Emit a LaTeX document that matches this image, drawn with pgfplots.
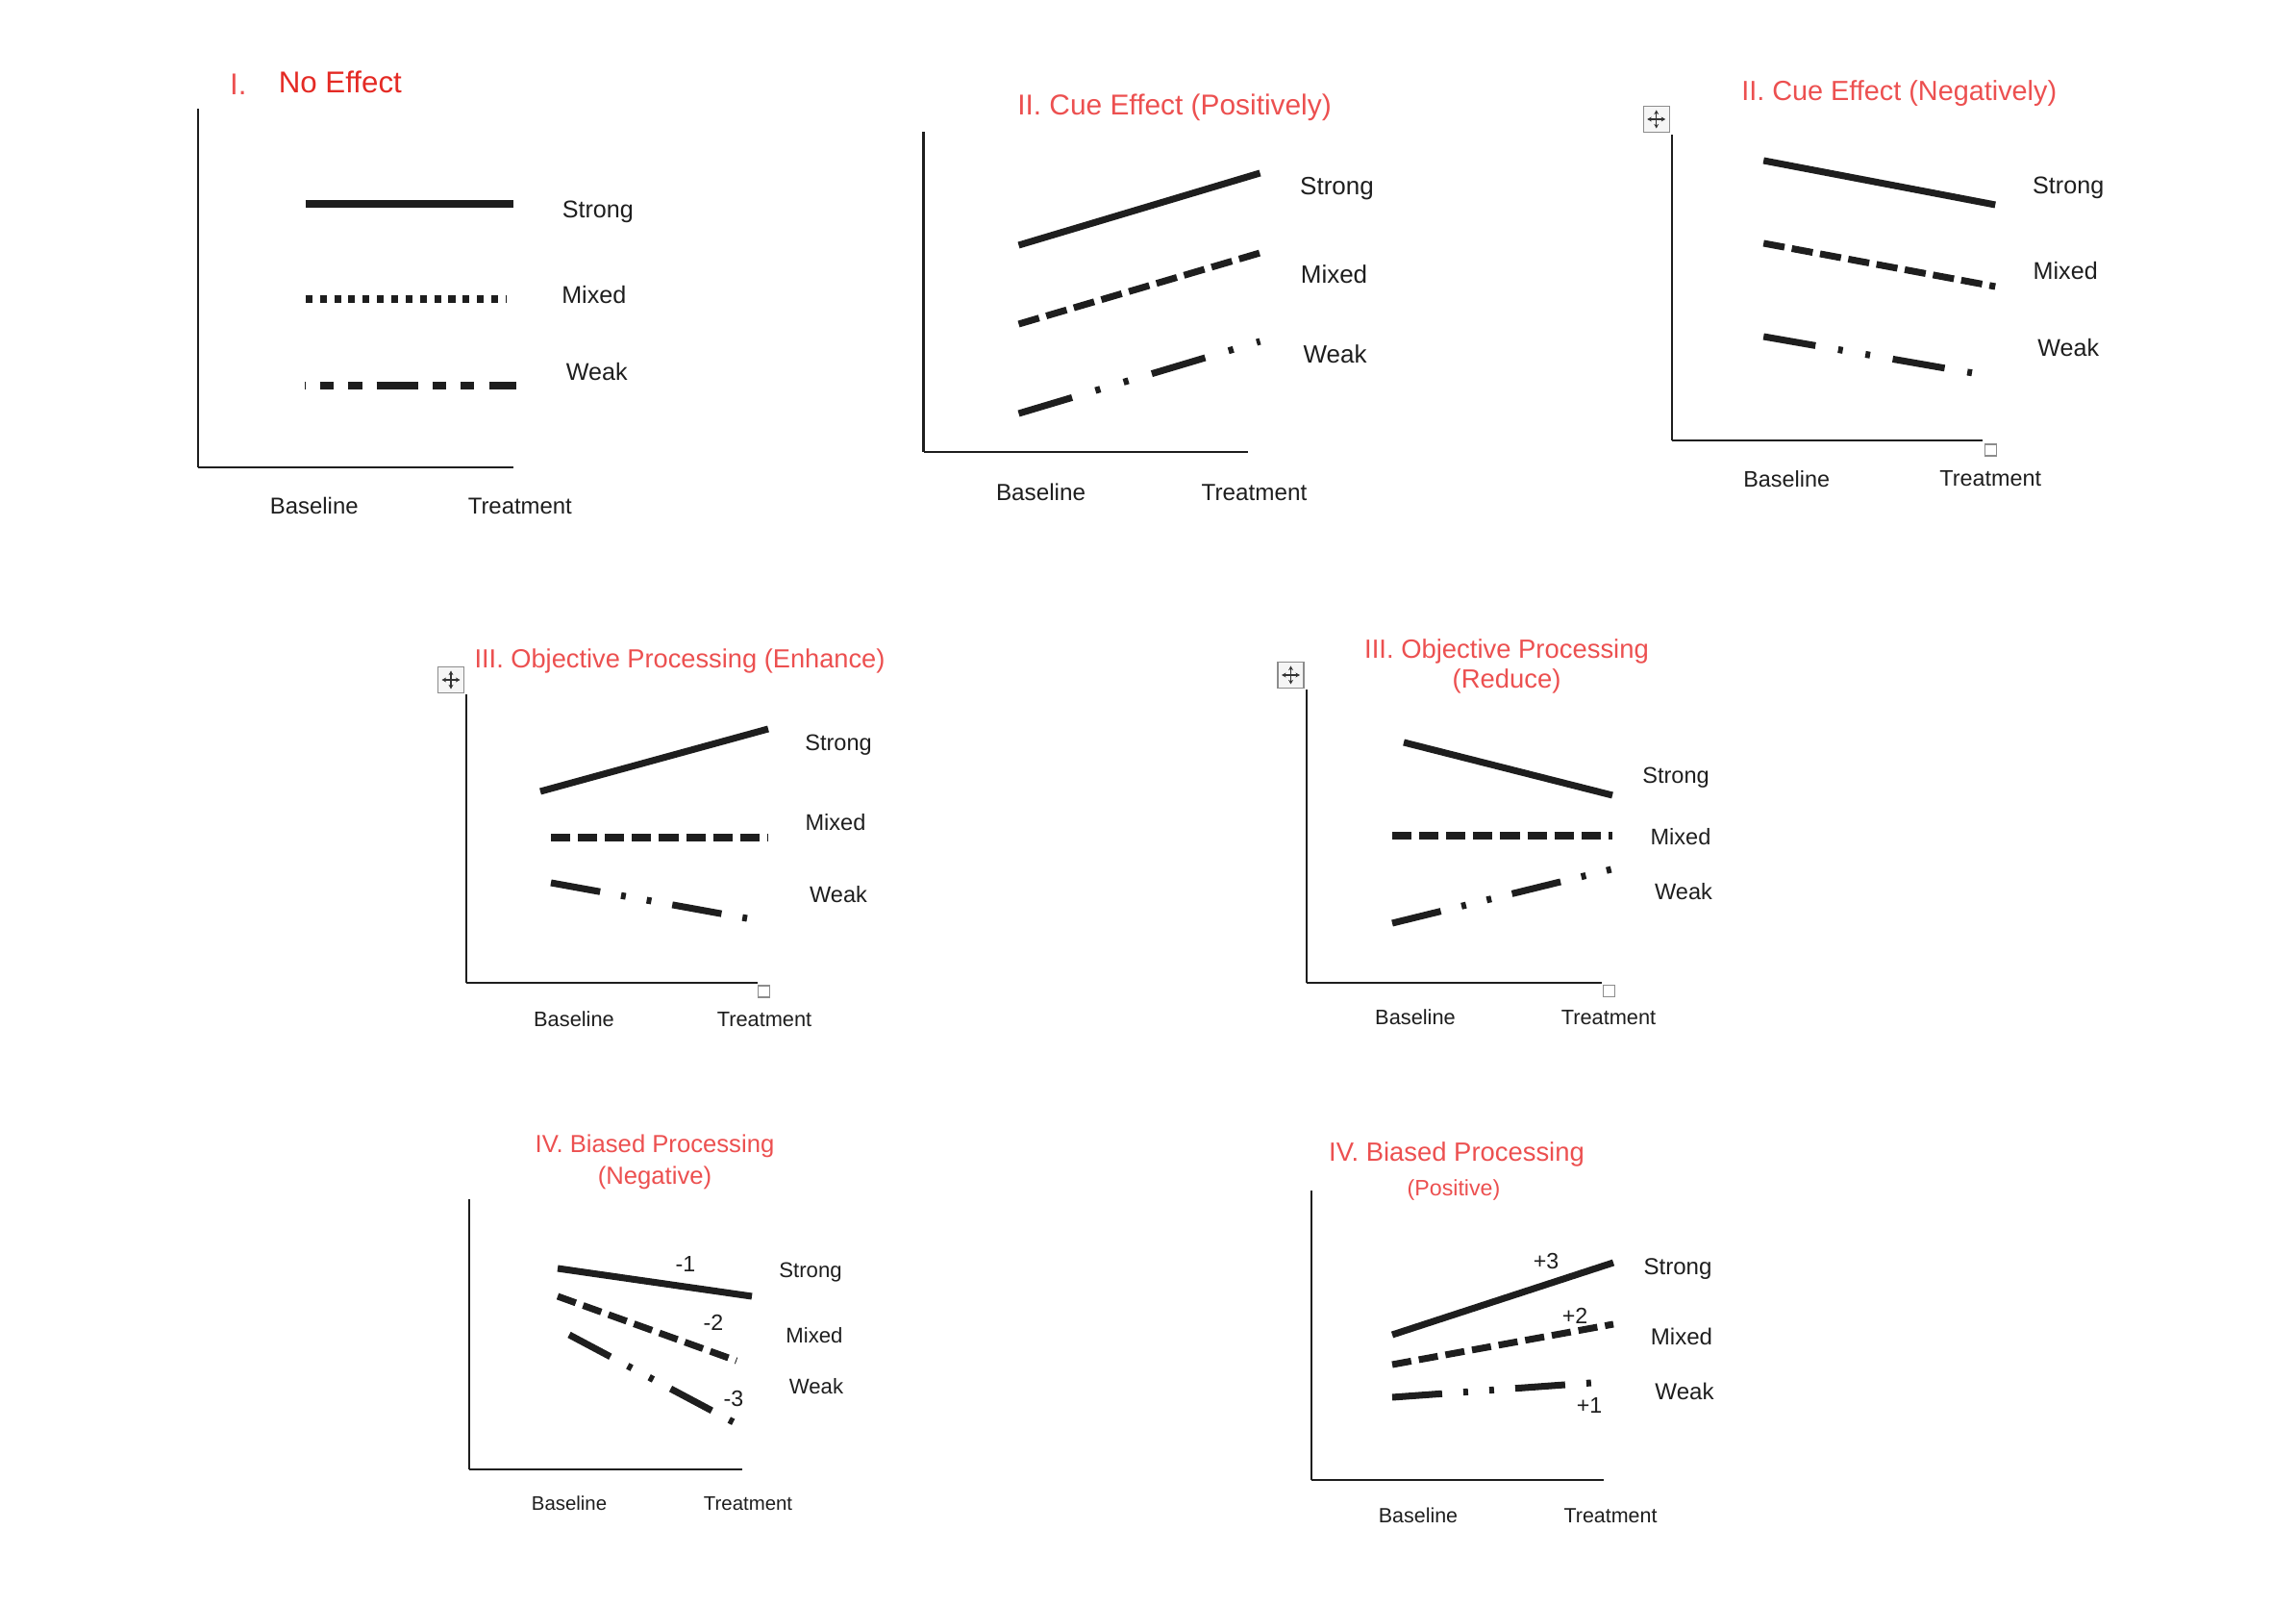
\documentclass[border=0pt]{standalone}
\usepackage{fontspec}
\setmainfont{Liberation Sans}
\usepackage{pgfplots}
\pgfplotsset{compat=1.18}
\usetikzlibrary{arrows.meta}

\definecolor{titlered}{RGB}{236,80,80}
\definecolor{darkred}{RGB}{228,42,36}
\definecolor{ink}{RGB}{30,30,30}

\tikzset{
  strong/.style={line width=2pt, ink},
  mixed/.style={line width=2pt, ink, dash pattern=on 5.7pt off 2.3pt},
  mixedII/.style={line width=2pt, ink, dash pattern=on 6.3pt off 2.2pt},
  weak/.style={line width=2pt, ink, dash pattern=on 14.8pt off 6.3pt on 1.4pt off 6.3pt on 1.4pt off 6.3pt},
  lab/.style={font=\fontsize{#1}{#1}\selectfont, text=ink},
  lab/.default=7,
  ttl/.style={font=\fontsize{#1}{#1}\selectfont, text=titlered, align=center},
  ttl/.default=7.8,
}
\pgfplotsset{
  panel/.style={
    anchor=south west, x=0.1mm, y=0.1mm, xmin=0, ymin=0,
    axis x line=bottom, axis y line=left,
    axis line style={-, line width=0.6pt, ink},
    ytick=\empty, major tick length=0pt,
    xticklabels={Baseline,Treatment},
    xticklabel style={anchor=center, xshift=2.56pt, text=ink},
    clip=false, no markers,
  },
  tickfont/.style={xticklabel style={font=\fontsize{#1}{#1}\selectfont}},
}
% Word "move" handle and resize square, as in the screenshot
\newcommand{\moveicon}[2]{%
  \node[draw=black!45, fill=black!4, minimum size=2.7mm, inner sep=0pt, line width=0.4pt] (mv) at (axis cs:#1,#2) {};
  \draw[{Stealth[length=1.3pt,width=1.4pt]}-{Stealth[length=1.3pt,width=1.4pt]}, line width=0.35pt, black!80]
    ([xshift=-0.95mm]mv.center) -- ([xshift=0.95mm]mv.center);
  \draw[{Stealth[length=1.3pt,width=1.4pt]}-{Stealth[length=1.3pt,width=1.4pt]}, line width=0.35pt, black!80]
    ([yshift=-0.95mm]mv.center) -- ([yshift=0.95mm]mv.center);
}
\newcommand{\sizebox}[2]{%
  \node[draw=black!45, fill=white, minimum size=1.2mm, inner sep=0pt, line width=0.4pt] at (axis cs:#1,#2) {};
}

\begin{document}
\begin{tikzpicture}
\path[use as bounding box] (0,0) rectangle (238.8mm,166.8mm);

% I. No Effect
\begin{axis}[panel, at={(20.58mm,118.2mm)}, xmax=328, ymax=373, xtick={112,326},
  tickfont=6.8, xticklabel style={yshift=-11.4pt}]
\addplot[strong, line width=2.5pt] coordinates {(112,274) (328,274)};
\addplot[ink, line width=2.3pt, dash pattern=on 2pt off 2.23pt] coordinates {(112,175) (321,175)};
\addplot[ink, line width=2.3pt, dash pattern=on 4.07pt off 4.29pt on 4.07pt off 4.29pt on 12.26pt off 4.29pt, dash phase=28.7pt] coordinates {(111,85) (331,85)};
\node[lab=7.15] at (axis cs:416,266) {Strong};
\node[lab=7.15] at (axis cs:412,179) {Mixed};
\node[lab=7.15] at (axis cs:415,99) {Weak};
\node[font=\fontsize{8.9}{10}\selectfont, text=titlered] at (axis cs:42,398) {I.};
\node[font=\fontsize{8.9}{10}\selectfont, text=darkred] at (axis cs:148,401) {No Effect};
\end{axis}

% II. Cue Effect (Positively)
\begin{axis}[panel, at={(96.05mm,119.8mm)}, xmax=337, ymax=333, xtick={113,335},
  tickfont=6.9, xticklabel style={yshift=-12pt}]
\addplot[strong] coordinates {(99,215) (350,290)};
\addplot[mixedII] coordinates {(99,133) (350,207)};
\addplot[ink, line width=2pt, dash pattern=on 16.5pt off 7.2pt on 1.5pt off 7.2pt on 1.5pt off 7.2pt] coordinates {(99,40) (350,115)};
\node[lab=7.4] at (axis cs:430,274) {Strong};
\node[lab=7.4] at (axis cs:427,185) {Mixed};
\node[lab=7.4] at (axis cs:428,102) {Weak};
\node[ttl=8.5] at (axis cs:261,358) {II. Cue Effect (Positively)};
\end{axis}

% II. Cue Effect (Negatively)
\begin{axis}[panel, at={(173.92mm,121.0mm)}, xmax=323, ymax=318, xtick={110,322},
  tickfont=6.65, xticklabel style={yshift=-11.4pt}]
\addplot[strong] coordinates {(95,291) (336,245)};
\addplot[mixedII] coordinates {(95,205) (336,160)};
\addplot[ink, line width=2pt, dash pattern=on 15.6pt off 6.8pt on 1.4pt off 6.8pt on 1.4pt off 6.8pt] coordinates {(95,108) (313,70)};
\node[lab=7.15] at (axis cs:412,263) {Strong};
\node[lab=7.15] at (axis cs:409,176) {Mixed};
\node[lab=7.15] at (axis cs:412,96) {Weak};
\node[ttl=8.2] at (axis cs:236,361) {II. Cue Effect (Negatively)};
\moveicon{-16.5}{334}
\sizebox{331}{-10}
\end{axis}

% III. Objective Processing (Enhance)
\begin{axis}[panel, at={(48.5mm,64.6mm)}, xmax=303, ymax=300, xtick={103,301},
  tickfont=6.2, xticklabel style={yshift=-10.8pt}]
\addplot[strong] coordinates {(77,199) (314,264)};
\addplot[mixed] coordinates {(88,151) (314,151)};
\addplot[weak] coordinates {(88,104) (292,67)};
\node[lab=6.7] at (axis cs:387,247) {Strong};
\node[lab=6.7] at (axis cs:384,167) {Mixed};
\node[lab=6.7] at (axis cs:387,92) {Weak};
\node[ttl=7.75] at (axis cs:222,335) {III. Objective Processing (Enhance)};
\moveicon{-16}{315}
\sizebox{309.5}{-9}
\end{axis}

% III. Objective Processing (Reduce)
\begin{axis}[panel, at={(135.9mm,64.6mm)}, xmax=307, ymax=305, xtick={104,305},
  tickfont=6.2, xticklabel style={yshift=-10.2pt}]
\addplot[strong] coordinates {(101,250) (318,195)};
\addplot[mixed] coordinates {(89,153) (318,153)};
\addplot[weak] coordinates {(89,62) (321,119)};
\node[lab=6.7] at (axis cs:384,213) {Strong};
\node[lab=6.7] at (axis cs:389,152) {Mixed};
\node[lab=6.7] at (axis cs:392,95) {Weak};
\node[ttl=7.8, font=\fontsize{7.8}{8.6}\selectfont] at (axis cs:208,329) {III. Objective Processing\\(Reduce)};
\moveicon{-16.5}{320}
\sizebox{314.5}{-8.5}
\end{axis}

% IV. Biased Processing (Negative)
\begin{axis}[panel, at={(48.8mm,14.0mm)}, xmax=284, ymax=281, xtick={95,281},
  tickfont=5.8, xticklabel style={yshift=-10pt}]
\addplot[strong] coordinates {(92,209) (294,180)};
\addplot[mixed] coordinates {(92,180) (278,113)};
\addplot[ink, line width=2pt, dash pattern=on 13.8pt off 5.8pt on 1.4pt off 5.8pt on 1.4pt off 5.8pt] coordinates {(104,140) (277,48)};
\node[lab=6.6] at (axis cs:225,213) {-1};
\node[lab=6.6] at (axis cs:254,153) {-2};
\node[lab=6.6] at (axis cs:275,73) {-3};
\node[lab=6.3] at (axis cs:355,205) {Strong};
\node[lab=6.3] at (axis cs:359,139) {Mixed};
\node[lab=6.3] at (axis cs:361,86) {Weak};
\node[ttl, font=\fontsize{7.3}{9.4}\selectfont] at (axis cs:193,320) {IV. Biased Processing\\(Negative)};
\end{axis}

% IV. Biased Processing (Positive)
\begin{axis}[panel, at={(136.4mm,12.9mm)}, xmax=304, ymax=301, xtick={102,302},
  tickfont=6.1, xticklabel style={yshift=-10.5pt}]
\addplot[strong] coordinates {(84,151) (314,226)};
\addplot[mixed] coordinates {(84,120) (314,162)};
\addplot[weak] coordinates {(84,86) (291,101)};
\node[lab=6.6] at (axis cs:244,227) {+3};
\node[lab=6.6] at (axis cs:274,171) {+2};
\node[lab=6.6] at (axis cs:289,77) {+1};
\node[lab=6.85] at (axis cs:381,219) {Strong};
\node[lab=6.85] at (axis cs:385,149) {Mixed};
\node[lab=6.85] at (axis cs:388,92) {Weak};
\node[ttl=7.8] at (axis cs:151,339) {IV. Biased Processing};
\node[ttl=6.6] at (axis cs:148,302) {(Positive)};
\end{axis}
\end{tikzpicture}
\end{document}
